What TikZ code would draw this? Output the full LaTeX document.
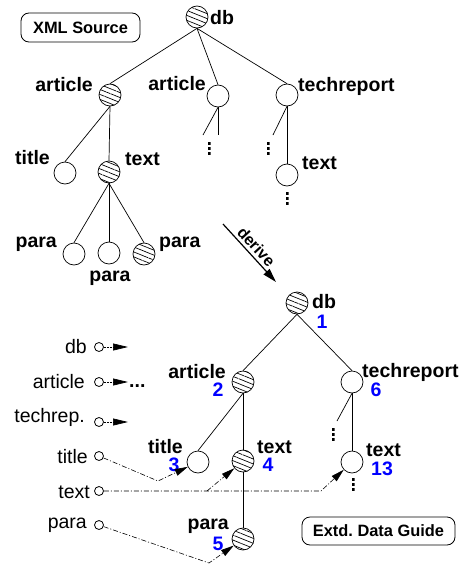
\documentclass[tikz,border=0pt]{standalone}
\usepackage{fontspec}
\setmainfont{Liberation Sans}
\usepackage{tikz}
\usetikzlibrary{arrows.meta,patterns.meta}
\tikzset{
  elem/.style={draw, circle, line width=0.7pt, minimum size=22pt, inner sep=0pt, fill=white},
  hatched/.style={draw, circle, line width=0.7pt, minimum size=22pt, inner sep=0pt, pattern={Lines[angle=-22, distance=4.6pt, line width=0.7pt]}},
  tag/.style={font=\fontsize{19.5}{21}\selectfont\bfseries, inner sep=0pt},
  num/.style={tag, text=blue},
  idx/.style={font=\fontsize{19.5}{21}\selectfont, inner sep=0pt, anchor=east},
  panel/.style={draw, rounded corners=8pt, line width=0.8pt, font=\fontsize{16.4}{18}\selectfont\bfseries, inner sep=0pt},
  port/.style={draw, circle, line width=0.8pt, minimum size=9pt, inner sep=0pt},
  vdotsbox/.style={inner sep=0pt, minimum width=3pt, minimum height=13pt,
    path picture={\foreach \k in {0,1,2} \fill ([yshift=-\k*5pt]path picture bounding box.north west) rectangle ++(3pt,-3pt);}},
  edge/.style={line width=0.7pt},
  ptr/.style={line width=0.6pt, dash pattern=on 5pt off 2pt on 1pt off 2pt, -{Triangle[length=13pt, width=7pt]}},
  iptr/.style={line width=0.7pt, dash pattern=on 2pt off 1pt, -{Triangle[length=15pt, width=7pt]}},
  derivearrow/.style={line width=1.2pt, -{Triangle[length=14pt, width=8pt]}}
}
\begin{document}
\begin{tikzpicture}[x=1pt,y=-1pt]
  \useasboundingbox (0,0) rectangle (462,570);

  \node[panel, minimum width=119pt, minimum height=29pt] (xmlsrc) at (80.5,27.5) {XML Source};
  \node[hatched] (sdb) at (197,17) {};
  \node[tag, anchor=west] (sdbt) at (210,18) {db};
  \node[hatched] (sart) at (110,95) {};
  \node[tag, anchor=east] (sartt) at (93,85) {article};
  \node[elem] (sartb) at (218,96) {};
  \node[tag, anchor=east] (sartbt) at (206,84) {article};
  \node[elem] (stech) at (287,95) {};
  \node[tag, anchor=west] (stecht) at (298,86) {techreport};
  \node[elem] (stitle) at (65,173) {};
  \node[tag, anchor=east] (stitlet) at (50,158) {title};
  \node[hatched] (stext) at (109,172) {};
  \node[tag, anchor=west] (stextt) at (125,159) {text};
  \node[elem] (sparaa) at (74,254) {};
  \node[tag, anchor=east] (sparaat) at (57,244) {para};
  \node[elem] (sparab) at (109,253) {};
  \node[tag] (sparabt) at (110,278) {para};
  \node[hatched] (sparac) at (144,254) {};
  \node[tag, anchor=west] (sparact) at (159,244) {para};
  \node[elem] (stextb) at (287,175) {};
  \node[tag, anchor=west] (stextbt) at (302,163) {text};
  \coordinate (sartbl) at (203,135);
  \coordinate (sartbv) at (218,135);
  \coordinate (stechl) at (273,135);
  \node[vdotsbox] (sdota) at (209,148) {};
  \node[vdotsbox] (sdotb) at (268,148) {};
  \node[vdotsbox] (sdotc) at (287,198) {};

  \draw[edge] (sdb.south) -- (sart.north);
  \draw[edge] (sdb.south) -- (sartb.north);
  \draw[edge] (sdb.south) -- (stech.north);
  \draw[edge] (sart.south) -- (stitle.north);
  \draw[edge] (sart.south) -- (stext.north);
  \draw[edge] (stext.south) -- (sparaa.north);
  \draw[edge] (stext.south) -- (sparab.north);
  \draw[edge] (stext.south) -- (sparac.north);
  \draw[edge] (sartb.south) -- (sartbl);
  \draw[edge] (sartb.south) -- (sartbv);
  \draw[edge] (stech.south) -- (stechl);
  \draw[edge] (stech.south) -- (stextb.north);

  \coordinate (dfrom) at (223,224);
  \coordinate (dto) at (276,282);
  \draw[derivearrow] (dfrom) -- node[tag, sloped, above=3pt, font=\fontsize{16}{18}\selectfont\bfseries] (derivet) {derive} (dto);

  \node[hatched] (ldb) at (297,303) {};
  \node[tag, anchor=west] (ldbt) at (312,302) {db};
  \node[num] (ldbn) at (322,322) {1};
  \node[hatched] (lart) at (243,382) {};
  \node[tag, anchor=east] (lartt) at (226,372) {article};
  \node[num] (lartn) at (218,390) {2};
  \node[elem] (ltech) at (352,382) {};
  \node[tag, anchor=west] (ltecht) at (362,372) {techreport};
  \node[num] (ltechn) at (376,390) {6};
  \node[elem] (ltitle) at (198,462) {};
  \node[tag, anchor=east] (ltitlet) at (183,447) {title};
  \node[num] (ltitlen) at (174,465) {3};
  \node[hatched] (ltext) at (243,461) {};
  \node[tag, anchor=west] (ltextt) at (257,447) {text};
  \node[num] (ltextn) at (268,465) {4};
  \node[hatched] (lpara) at (243,539) {};
  \node[tag, anchor=east] (lparat) at (229,526) {para};
  \node[num] (lparan) at (218,544) {5};
  \node[elem] (ltextb) at (352,462) {};
  \node[tag, anchor=west] (ltextbt) at (366,450) {text};
  \node[num] (ltextbn) at (382,469) {13};
  \coordinate (ltechl) at (337,421);
  \node[vdotsbox] (ldota) at (333,434) {};
  \node[vdotsbox] (ldotb) at (353,484) {};
  \node[panel, minimum width=153pt, minimum height=28pt] (guide) at (378.5,531) {Extd.\ Data Guide};

  \draw[edge] (ldb.south) -- (lart.north);
  \draw[edge] (ldb.south) -- (ltech.north);
  \draw[edge] (lart.south) -- (ltitle.north);
  \draw[edge] (lart.south) -- (ltext.north);
  \draw[edge] (ltext.south) -- (lpara.north);
  \draw[edge] (ltech.south) -- (ltechl);
  \draw[edge] (ltech.south) -- (ltextb.north);

  \node[idx] (idbt) at (87,347) {db};
  \node[port] (idb) at (99,347) {};
  \coordinate (idbe) at (128,347);
  \node[idx] (iartt) at (85,382) {article};
  \node[port] (iart) at (99,382) {};
  \coordinate (iarte) at (128,382);
  \node[tag, anchor=base west] (iartd) at (129,387) {...};
  \node[idx] (itecht) at (85,417) {techrep.};
  \node[port] (itech) at (99,422) {};
  \coordinate (iteche) at (128,422);
  \node[idx] (ititlet) at (88,457) {title};
  \node[port] (ititle) at (99,456) {};
  \node[idx] (itextt) at (90,492) {text};
  \node[port] (itext) at (99,491) {};
  \node[idx] (iparat) at (87,525) {para};
  \node[port] (ipara) at (99,525) {};

  \draw[iptr] (idb) -- (idbe);
  \draw[iptr] (iart) -- (iarte);
  \draw[iptr] (itech) -- (iteche);

  \coordinate (btitle) at (158,481);
  \coordinate (btexta) at (207,491);
  \coordinate (btextb) at (321,491);
  \coordinate (bpara) at (209,563);
  \draw[ptr] (ititle) -- (btitle) -- (ltitle);
  \draw[ptr] (itext) -- (btextb) -- (ltextb);
  \draw[ptr] (btexta) -- (ltext);
  \draw[ptr] (ipara) -- (bpara) -- (lpara);
\end{tikzpicture}
\end{document}
